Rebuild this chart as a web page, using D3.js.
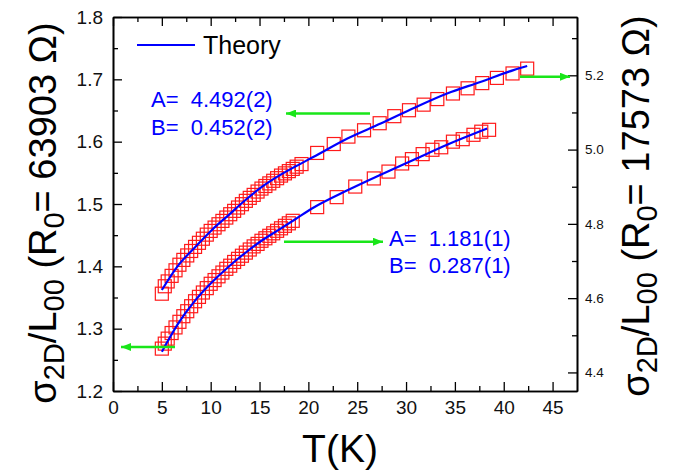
<!DOCTYPE html>
<html>
<head>
<meta charset="utf-8">
<script src="https://cdn.jsdelivr.net/npm/d3@7"></script>
<style>
  html, body { margin: 0; padding: 0; background: #fff; }
  svg { display: block; font-family: "Liberation Sans", Arial, sans-serif; }
  text { white-space: pre; }
</style>
</head>
<body>
<svg id="chart" width="678" height="470"></svg>
<script>
// ---- data ----
// lower series, left axis (R0 = 63903 Ω)
const lowerT = [5.0,5.3,5.6,6.0,6.4,6.8,7.2,7.6,8.0,8.4,8.8,9.2,9.6,10.0,10.4,10.8,11.2,11.6,12.0,12.4,12.8,13.2,13.6,14.0,14.4,14.8,15.2,15.6,16.0,16.4,16.8,17.2,17.6,18.0,18.4,
                20.9,22.9,24.8,26.7,28.2,29.6,30.6,31.7,32.7,33.6,34.8,35.8,36.9,37.7,38.5];
const lowerV = [1.268,1.276,1.284,1.293,1.302,1.311,1.320,1.328,1.336,1.344,1.351,1.358,1.365,1.372,1.378,1.384,1.390,1.396,1.401,1.407,1.412,1.417,1.422,1.427,1.432,1.436,1.441,1.445,1.449,1.453,1.457,1.461,1.465,1.469,1.473,
                1.495,1.511,1.528,1.541,1.552,1.565,1.572,1.580,1.587,1.591,1.600,1.604,1.611,1.616,1.619];
// upper series, right axis (R0 = 17573 Ω)
const upperT = [5.0,5.3,5.6,6.0,6.4,6.8,7.2,7.6,8.0,8.4,8.8,9.2,9.6,10.0,10.4,10.8,11.2,11.6,12.0,12.4,12.8,13.2,13.6,14.0,14.4,14.8,15.2,15.6,16.0,16.4,16.8,17.2,17.6,18.0,18.4,18.8,19.3,
                20.9,22.6,24.1,25.7,27.3,28.8,30.3,31.8,33.2,34.8,36.3,37.8,39.3,40.9,42.4];
const upperV = [4.612,4.632,4.645,4.660,4.675,4.690,4.703,4.715,4.727,4.738,4.749,4.760,4.771,4.781,4.790,4.799,4.808,4.817,4.826,4.835,4.844,4.853,4.862,4.870,4.878,4.887,4.895,4.902,4.909,4.916,4.923,4.930,4.936,4.942,4.948,4.954,4.961,
                4.991,5.015,5.035,5.052,5.071,5.090,5.106,5.121,5.136,5.151,5.165,5.179,5.193,5.205,5.218];
// theory curves
const lowerFitT = [5,6.7,8.4,10.1,11.8,13.5,15.2,17,18.7,20.5,24,27.4,30.8,34.2,38.3];
const lowerFitV = [1.263,1.309,1.345,1.374,1.399,1.421,1.441,1.459,1.476,1.494,1.522,1.547,1.571,1.595,1.621];
const upperFitT = [5,6.7,8.4,10.1,11.8,13.5,15.2,17,18.7,20.5,24,27.4,30.8,34.2,37.6,41,42.4];
const upperFitV = [4.622,4.689,4.737,4.783,4.823,4.863,4.899,4.930,4.955,4.980,5.030,5.070,5.112,5.151,5.182,5.214,5.225];

const xTicks = [0,5,10,15,20,25,30,35,40,45];
const xMinor = [2.5,7.5,12.5,17.5,22.5,27.5,32.5,37.5,42.5];
const leftTicks = [1.2,1.3,1.4,1.5,1.6,1.7,1.8];
const leftMinor = [1.25,1.35,1.45,1.55,1.65,1.75];
const rightTicks = [4.4,4.6,4.8,5.0,5.2];
const rightMinor = [4.5,4.7,4.9,5.1,5.3];

const fitLabelUpper = ["A=  4.492(2)", "B=  0.452(2)"];
const fitLabelLower = ["A=  1.181(1)", "B=  0.287(1)"];

// ---- layout ----
const L = 113, R = 577, T = 17, B = 391;
const svg = d3.select("#chart");
const x = d3.scaleLinear().domain([0, 47.5]).range([L, R]);
const yL = d3.scaleLinear().domain([1.2, 1.8]).range([B, T]);
const yR = d3.scaleLinear().domain([4.35, 5.357]).range([B, T]);

const red = "#ff1a1a", blue = "#0000ff", green = "#19e619";

// markers
const ms = 13;
function drawMarkers(ts, vs, ys) {
  svg.append("g").selectAll("rect").data(ts.map((t, i) => [t, vs[i]])).join("rect")
    .attr("x", d => x(d[0]) - ms / 2).attr("y", d => ys(d[1]) - ms / 2)
    .attr("width", ms).attr("height", ms)
    .attr("fill", "none").attr("stroke", red).attr("stroke-width", 1.2);
}
drawMarkers(lowerT, lowerV, yL);
drawMarkers(upperT, upperV, yR);

// theory lines
function drawFit(ts, vs, ys) {
  const line = d3.line().x(d => x(d[0])).y(d => ys(d[1])).curve(d3.curveMonotoneX);
  svg.append("path").datum(ts.map((t, i) => [t, vs[i]]))
    .attr("d", line).attr("fill", "none").attr("stroke", blue).attr("stroke-width", 2.2);
}
drawFit(lowerFitT, lowerFitV, yL);
drawFit(upperFitT, upperFitV, yR);

// axes
function styleAxis(g, fs) {
  g.selectAll("path.domain").attr("stroke", "#000").attr("stroke-width", 1.6);
  g.selectAll(".tick line").attr("stroke", "#000").attr("stroke-width", 1.3);
  g.selectAll("text").attr("font-family", "Liberation Sans, Arial, sans-serif").attr("font-size", fs).attr("fill", "#111");
}
// bottom
let g = svg.append("g").attr("transform", `translate(0,${B})`)
  .call(d3.axisBottom(x).tickValues(xMinor).tickSize(-5).tickSizeOuter(0).tickFormat(""));
styleAxis(g, 19);
g = svg.append("g").attr("transform", `translate(0,${B})`)
  .call(d3.axisBottom(x).tickValues(xTicks).tickSize(-9).tickSizeOuter(0).tickPadding(10).tickFormat(d3.format("d")));
styleAxis(g, 19);
// top
g = svg.append("g").attr("transform", `translate(0,${T})`)
  .call(d3.axisTop(x).tickValues(xMinor).tickSize(-5).tickSizeOuter(0).tickFormat(""));
styleAxis(g, 19);
g = svg.append("g").attr("transform", `translate(0,${T})`)
  .call(d3.axisTop(x).tickValues(xTicks).tickSize(-9).tickSizeOuter(0).tickFormat(""));
styleAxis(g, 19);
// left
g = svg.append("g").attr("transform", `translate(${L},0)`)
  .call(d3.axisLeft(yL).tickValues(leftMinor).tickSize(-5).tickSizeOuter(0).tickFormat(""));
styleAxis(g, 19);
g = svg.append("g").attr("transform", `translate(${L},0)`)
  .call(d3.axisLeft(yL).tickValues(leftTicks).tickSize(-9).tickSizeOuter(0).tickPadding(10).tickFormat(d3.format(".1f")));
styleAxis(g, 19);
// right
g = svg.append("g").attr("transform", `translate(${R},0)`)
  .call(d3.axisRight(yR).tickValues(rightMinor).tickSize(-5).tickSizeOuter(0).tickFormat(""));
styleAxis(g, 13.5);
g = svg.append("g").attr("transform", `translate(${R},0)`)
  .call(d3.axisRight(yR).tickValues(rightTicks).tickSize(-9).tickSizeOuter(0).tickPadding(8).tickFormat(d3.format(".1f")));
styleAxis(g, 13.5);

// axis titles
function yTitle(cx, cy, r0) {
  const t = svg.append("text").attr("transform", `translate(${cx},${cy}) rotate(-90)`)
    .attr("text-anchor", "middle").attr("font-size", 38).attr("fill", "#000");
  const sub = 29, sh = 8;
  t.append("tspan").text("σ");
  t.append("tspan").attr("font-size", sub).attr("dy", sh).text("2D");
  t.append("tspan").attr("dy", -sh).text("/L");
  t.append("tspan").attr("font-size", sub).attr("dy", sh).text("00");
  t.append("tspan").attr("dy", -sh).text(" (R");
  t.append("tspan").attr("font-size", sub).attr("dy", sh).text("0");
  t.append("tspan").attr("dy", -sh).text("= " + r0 + " Ω)");
}
yTitle(56, 213, "63903");
yTitle(649, 206, "17573");

svg.append("text").attr("x", 340).attr("y", 462).attr("text-anchor", "middle")
  .attr("font-size", 39).attr("fill", "#000").text("T(K)");

// legend
svg.append("line").attr("x1", 137).attr("x2", 195).attr("y1", 45).attr("y2", 45)
  .attr("stroke", blue).attr("stroke-width", 2);
svg.append("text").attr("x", 203).attr("y", 54).attr("font-size", 25).attr("fill", "#000").text("Theory");

// fit parameter labels
function params(lines, px, py) {
  lines.forEach((s, i) => svg.append("text").attr("x", px).attr("y", py + i * 27.7)
    .attr("font-size", 22).attr("fill", blue).text(s));
}
params(fitLabelUpper, 151, 107);
params(fitLabelLower, 389, 245.5);

// green arrows
svg.append("defs").append("marker").attr("id", "ah").attr("viewBox", "0 0 10 8")
  .attr("refX", 10).attr("refY", 4).attr("markerWidth", 10).attr("markerHeight", 8)
  .attr("markerUnits", "userSpaceOnUse").attr("orient", "auto")
  .append("path").attr("d", "M0,0 L10,4 L0,8 Z").attr("fill", green);
function arrow(x1, y1, x2, y2) {
  svg.append("line").attr("x1", x1).attr("y1", y1).attr("x2", x2).attr("y2", y2)
    .attr("stroke", green).attr("stroke-width", 2.6).attr("marker-end", "url(#ah)");
}
arrow(370, 113.5, 286, 113.5);
arrow(284, 241.7, 383, 241.7);
arrow(175, 347, 121, 347);
arrow(520, 76.7, 570, 76.7);
</script>
</body>
</html>
